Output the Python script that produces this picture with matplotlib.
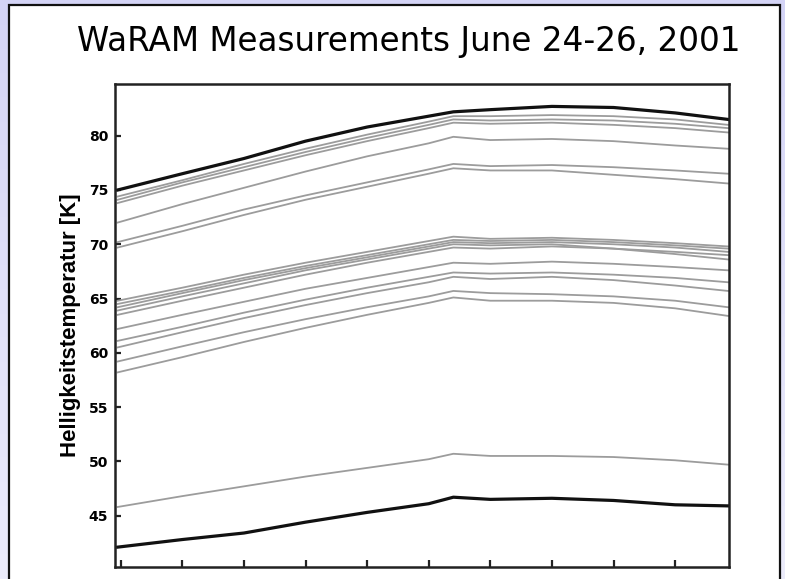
import numpy as np
import matplotlib
matplotlib.use("Agg")
import matplotlib.pyplot as plt
from matplotlib.patches import Rectangle

# ---- data ----
x = [-0.05, 1, 2, 3, 4, 5, 5.4, 6, 7, 8, 9, 9.86]

black_top = [75.0, 76.5, 77.9, 79.5, 80.8, 81.8, 82.2, 82.4, 82.7, 82.6, 82.1, 81.5]
black_bottom = [42.1, 42.8, 43.4, 44.4, 45.3, 46.1, 46.7, 46.5, 46.6, 46.4, 46.0, 45.9]

gray_upper = [
    [74.4, 75.9, 77.4, 78.8, 80.1, 81.3, 81.8, 81.8, 81.9, 81.8, 81.5, 81.0],
    [74.1, 75.7, 77.1, 78.5, 79.8, 81.0, 81.5, 81.4, 81.5, 81.4, 81.1, 80.7],
    [73.8, 75.4, 76.8, 78.2, 79.5, 80.7, 81.2, 81.1, 81.2, 81.0, 80.7, 80.3],
    [72.0, 73.7, 75.2, 76.7, 78.1, 79.3, 79.9, 79.6, 79.7, 79.5, 79.1, 78.8],
    [70.2, 71.7, 73.2, 74.5, 75.7, 76.9, 77.4, 77.2, 77.3, 77.1, 76.8, 76.5],
    [69.7, 71.2, 72.7, 74.1, 75.3, 76.5, 77.0, 76.8, 76.8, 76.4, 76.0, 75.6],
]
gray_middle = [
    [64.8, 66.0, 67.2, 68.3, 69.3, 70.3, 70.7, 70.5, 70.6, 70.4, 70.1, 69.8],
    [64.5, 65.7, 66.9, 68.0, 69.0, 70.0, 70.4, 70.3, 70.4, 70.2, 69.9, 69.6],
    [64.2, 65.5, 66.7, 67.8, 68.8, 69.8, 70.2, 70.1, 70.2, 70.0, 69.7, 69.3],
    [63.9, 65.2, 66.4, 67.6, 68.6, 69.6, 70.0, 69.9, 70.0, 69.6, 69.1, 68.6],
    [63.5, 64.8, 66.0, 67.2, 68.3, 69.3, 69.7, 69.6, 69.8, 69.6, 69.3, 69.0],
    [62.2, 63.5, 64.7, 65.9, 66.9, 67.9, 68.3, 68.2, 68.4, 68.2, 67.9, 67.6],
    [61.1, 62.4, 63.7, 64.9, 66.0, 67.0, 67.4, 67.3, 67.4, 67.2, 66.9, 66.5],
    [60.5, 61.9, 63.2, 64.4, 65.5, 66.5, 67.0, 66.8, 67.0, 66.7, 66.2, 65.7],
    [59.2, 60.6, 61.9, 63.1, 64.2, 65.2, 65.7, 65.5, 65.4, 65.2, 64.8, 64.2],
    [58.2, 59.6, 61.0, 62.3, 63.5, 64.6, 65.1, 64.8, 64.8, 64.6, 64.1, 63.4],
]
gray_lower = [45.8, 46.8, 47.7, 48.6, 49.4, 50.2, 50.7, 50.5, 50.5, 50.4, 50.1, 49.7]

yticks = [45, 50, 55, 60, 65, 70, 75, 80]
xticks = list(range(10))

title = "WaRAM Measurements June 24-26, 2001"
ylabel = "Helligkeitstemperatur [K]"

# ---- figure ----
W, H = 785, 579
fig = plt.figure(figsize=(W / 100, H / 100), dpi=100)

# lavender background gradient
bg = fig.add_axes([0, 0, 1, 1], zorder=-10)
top_c = np.array([212, 212, 246]) / 255
bot_c = np.array([236, 236, 251]) / 255
grad = np.linspace(0, 1, 256)[:, None, None]
img = top_c * (1 - grad) + bot_c * grad
bg.imshow(np.repeat(img, 2, axis=1), aspect="auto", extent=[0, 1, 0, 1], origin="upper")
bg.set_axis_off()

# white panel with dark border
panel = Rectangle((8.5 / W, -0.05), (779.5 - 8.5) / W, 1.05 - 5 / H,
                  transform=fig.transFigure, facecolor="white",
                  edgecolor="#111111", linewidth=1.6, zorder=-5)
fig.patches.append(panel)

fig.text(409 / W, 1 - 41 / H, title, ha="center", va="center",
         fontsize=23.5, family="DejaVu Sans", color="black")

left, right, top, bottom = 115, 729, 83.5, 567
ax = fig.add_axes([left / W, 1 - bottom / H, (right - left) / W, (bottom - top) / H])

gray = "#9c9c9c"
for s in gray_upper + gray_middle:
    ax.plot(x, s, color=gray, lw=1.3, solid_joinstyle="round")
ax.plot(x, gray_lower, color=gray, lw=1.3)
ax.plot(x, black_top, color="#111111", lw=2.3)
ax.plot(x, black_bottom, color="#111111", lw=2.3)

ax.set_xlim(-0.093, 9.875)
ax.set_ylim(40.27, 84.81)
ax.set_xticks(xticks)
ax.set_xticklabels([])
ax.set_yticks(yticks)
ax.set_yticklabels([str(v) for v in yticks], fontsize=10, fontweight="bold",
                   family="DejaVu Sans")
ax.tick_params(axis="both", direction="in", width=1.6, color="#222222")
ax.tick_params(axis="x", length=5)
ax.tick_params(axis="y", length=4, pad=5)
for sp in ax.spines.values():
    sp.set_linewidth(1.8)
    sp.set_color("#222222")
ax.set_ylabel(ylabel, fontsize=16, fontweight="bold", family="Liberation Sans")
ax.yaxis.set_label_coords((81 - left) / (right - left), 0.5)

fig.savefig("out.png", dpi=100)
